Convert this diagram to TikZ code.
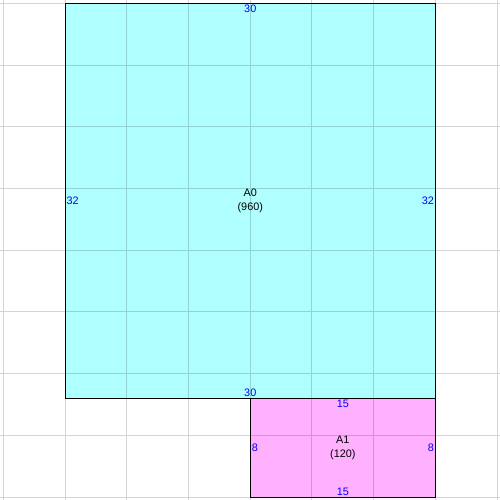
\documentclass[tikz,border=0pt]{standalone}
\usepackage{fontspec}
\setmainfont{Liberation Sans}
\definecolor{roomcyan}{RGB}{176,255,255}
\definecolor{roompink}{RGB}{255,176,255}
\tikzset{
  room/.style={draw=black, line width=0.7pt, inner sep=0pt, align=center, font=\fontsize{7.5}{9.8}\selectfont},
  dimlabel/.style={text=blue, inner sep=1.2pt, font=\fontsize{7.5}{9}\selectfont},
  gridline/.style={draw=black, opacity=0.17, line width=0.7pt}
}
\begin{document}
\begin{tikzpicture}[x=0.3cm,y=0.3cm]
\def\u{0.3cm}
\useasboundingbox (-0.284,0.284) rectangle (40.24,-40.24);
\node[room, fill=roomcyan, minimum width=30*\u, minimum height=32*\u] (A0) at (20,-16) {A0\\(960)};
\node[room, fill=roompink, minimum width=15*\u, minimum height=8*\u] (A1) at (27.5,-36) {A1\\(120)};
\draw[gridline, step=5] (-0.284,0.284) grid (40.24,-40.24);
% side lengths of A0
\node[dimlabel, anchor=north] (A0n) at (A0.north) {30};
\node[dimlabel, anchor=south] (A0s) at (A0.south) {30};
\node[dimlabel, anchor=west] (A0w) at (A0.west) {32};
\node[dimlabel, anchor=east] (A0e) at (A0.east) {32};
% side lengths of A1
\node[dimlabel, anchor=north] (A1n) at (A1.north) {15};
\node[dimlabel, anchor=south] (A1s) at (A1.south) {15};
\node[dimlabel, anchor=west] (A1w) at (A1.west) {8};
\node[dimlabel, anchor=east] (A1e) at (A1.east) {8};
\end{tikzpicture}
\end{document}
